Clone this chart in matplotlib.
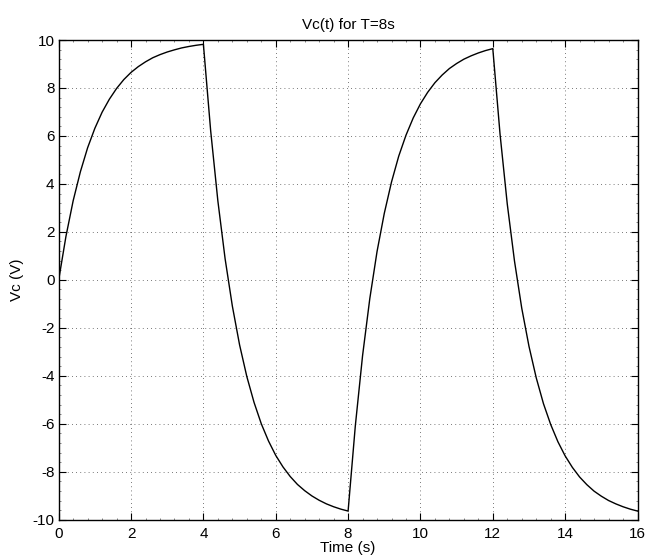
import numpy as np
import matplotlib
matplotlib.use("Agg")
import matplotlib.pyplot as plt
from matplotlib.ticker import MultipleLocator

# Time samples (s), every 0.2 s from 0 to 16
time_s = np.linspace(0, 16, 81)

# Capacitor voltage (V)
vc_volts = [
    0.00, 1.81, 3.30, 4.51, 5.51, 6.32, 6.99, 7.53, 7.98, 8.35,
    8.65, 8.89, 9.09, 9.26, 9.39, 9.50, 9.59, 9.67, 9.73, 9.78,
    9.82,
    6.23, 3.29, 0.88, -1.09, -2.71, -4.03, -5.11, -6.00, -6.72, -7.32,
    -7.80, -8.20, -8.53, -8.79, -9.01, -9.19, -9.34, -9.46, -9.56, -9.64,
    -6.08, -3.16, -0.78, 1.18, 2.77, 4.08, 5.16, 6.03, 6.75, 7.34,
    7.82, 8.22, 8.54, 8.81, 9.02, 9.20, 9.34, 9.46, 9.56, 9.64,
    6.08, 3.16, 0.78, -1.18, -2.77, -4.08, -5.16, -6.03, -6.75, -7.34,
    -7.82, -8.22, -8.54, -8.81, -9.02, -9.20, -9.34, -9.46, -9.56, -9.64,
]

x_ticks = [0, 2, 4, 6, 8, 10, 12, 14, 16]
y_ticks = [-10, -8, -6, -4, -2, 0, 2, 4, 6, 8, 10]

plt.rcParams['font.family'] = ['Liberation Sans', 'DejaVu Sans']
plt.rcParams['font.size'] = 11

fig = plt.figure(figsize=(6.46, 5.60), dpi=100)
ax = fig.add_axes([58.7 / 646, 40.3 / 560, (637.5 - 58.7) / 646, (519.7 - 40) / 560])

ax.plot(time_s, vc_volts, color='black', linewidth=1.0)

ax.set_xlim(0, 16)
ax.set_ylim(-10, 10)
ax.set_xticks(x_ticks)
ax.set_yticks(y_ticks)
ax.set_xticklabels([str(v) for v in x_ticks])
ax.set_yticklabels([str(v) for v in y_ticks])
ax.xaxis.set_minor_locator(MultipleLocator(0.4))
ax.yaxis.set_minor_locator(MultipleLocator(0.4))

ax.tick_params(which='major', direction='in', length=5, width=0.8,
               top=True, right=True, labelsize=11)
ax.tick_params(which='minor', direction='in', length=1.2, width=0.5,
               color='#555555', top=True, right=True)
ax.tick_params(axis='x', which='major', pad=5)
ax.tick_params(axis='y', which='major', pad=3)

ax.grid(True, which='major', linestyle=(0, (1, 4)), color='black',
        linewidth=0.6, alpha=0.7)

for sp in ax.spines.values():
    sp.set_linewidth(1.0)

ax.set_title('Vc(t) for T=8s', fontsize=11, pad=8)
ax.set_xlabel('Time (s)', fontsize=11, labelpad=0)
ax.set_ylabel('Vc (V)', fontsize=11, labelpad=6)

fig.savefig('out.png', dpi=100)
